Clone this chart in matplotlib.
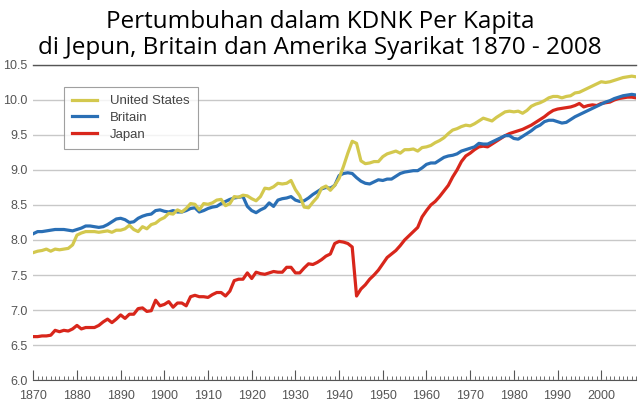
import numpy as np
import matplotlib
matplotlib.use("Agg")
import matplotlib.pyplot as plt
from matplotlib.ticker import MultipleLocator, FormatStrFormatter

# log GDP per capita, 1870-2008
years = np.arange(1870, 2009)

us = [
    7.82, 7.84, 7.85, 7.87, 7.84, 7.87, 7.86, 7.87, 7.88, 7.93,  # 1870s
    8.07, 8.10, 8.12, 8.12, 8.12, 8.11, 8.12, 8.13, 8.11, 8.14,  # 1880s
    8.14, 8.16, 8.21, 8.15, 8.12, 8.19, 8.16, 8.22, 8.24, 8.29,  # 1890s
    8.32, 8.38, 8.37, 8.43, 8.40, 8.45, 8.52, 8.51, 8.43, 8.52,  # 1900s
    8.51, 8.53, 8.57, 8.58, 8.49, 8.52, 8.62, 8.61, 8.64, 8.63,  # 1910s
    8.59, 8.56, 8.62, 8.74, 8.73, 8.76, 8.81, 8.80, 8.81, 8.85,  # 1920s
    8.72, 8.63, 8.47, 8.46, 8.54, 8.61, 8.74, 8.77, 8.71, 8.78,  # 1930s
    8.88, 9.05, 9.24, 9.41, 9.38, 9.13, 9.09, 9.10, 9.12, 9.12,  # 1940s
    9.19, 9.23, 9.25, 9.27, 9.24, 9.29, 9.29, 9.30, 9.27, 9.32,  # 1950s
    9.33, 9.35, 9.39, 9.42, 9.46, 9.52, 9.57, 9.59, 9.62, 9.64,  # 1960s
    9.63, 9.66, 9.70, 9.74, 9.72, 9.70, 9.75, 9.79, 9.83, 9.84,  # 1970s
    9.83, 9.84, 9.81, 9.85, 9.91, 9.94, 9.96, 9.99, 10.03, 10.05,  # 1980s
    10.05, 10.03, 10.05, 10.06, 10.10, 10.11, 10.14, 10.17, 10.20, 10.23,  # 1990s
    10.26, 10.25, 10.26, 10.28, 10.30, 10.32, 10.33, 10.34, 10.33,  # 2000s
]

britain = [
    8.09, 8.12, 8.12, 8.13, 8.14, 8.15, 8.15, 8.15, 8.14, 8.13,
    8.15, 8.17, 8.20, 8.20, 8.19, 8.18, 8.19, 8.22, 8.26, 8.30,
    8.31, 8.29, 8.25, 8.26, 8.31, 8.34, 8.36, 8.37, 8.42, 8.43,
    8.41, 8.40, 8.42, 8.40, 8.40, 8.42, 8.45, 8.46, 8.40, 8.42,
    8.45, 8.47, 8.48, 8.52, 8.55, 8.58, 8.60, 8.61, 8.62, 8.48,
    8.42, 8.39, 8.43, 8.46, 8.53, 8.48, 8.57, 8.59, 8.60, 8.62,
    8.57, 8.55, 8.56, 8.60, 8.65, 8.69, 8.73, 8.75, 8.74, 8.78,
    8.92, 8.95, 8.96, 8.95, 8.89, 8.84, 8.81, 8.80, 8.83, 8.86,
    8.85, 8.87, 8.87, 8.91, 8.95, 8.97, 8.98, 8.99, 8.99, 9.03,
    9.08, 9.10, 9.10, 9.14, 9.18, 9.20, 9.21, 9.23, 9.27, 9.29,
    9.31, 9.33, 9.38, 9.37, 9.37, 9.40, 9.43, 9.46, 9.49, 9.49,
    9.45, 9.44, 9.48, 9.52, 9.56, 9.61, 9.64, 9.69, 9.71, 9.71,
    9.69, 9.67, 9.68, 9.72, 9.76, 9.79, 9.82, 9.85, 9.88, 9.91,
    9.94, 9.97, 9.99, 10.02, 10.04, 10.06, 10.07, 10.08, 10.07,
]

japan = [
    6.62, 6.62, 6.63, 6.63, 6.64, 6.71, 6.69, 6.71, 6.70, 6.73,
    6.78, 6.73, 6.75, 6.75, 6.75, 6.78, 6.83, 6.87, 6.82, 6.87,
    6.93, 6.88, 6.94, 6.94, 7.02, 7.03, 6.98, 6.99, 7.14, 7.06,
    7.08, 7.12, 7.04, 7.10, 7.10, 7.06, 7.19, 7.21, 7.19, 7.19,
    7.18, 7.22, 7.25, 7.25, 7.20, 7.27, 7.42, 7.44, 7.44, 7.53,
    7.45, 7.54, 7.52, 7.51, 7.53, 7.55, 7.54, 7.54, 7.61, 7.61,
    7.53, 7.53, 7.60, 7.66, 7.65, 7.68, 7.72, 7.77, 7.80, 7.95,
    7.98, 7.97, 7.95, 7.90, 7.20, 7.30, 7.36, 7.44, 7.50, 7.57,
    7.66, 7.75, 7.80, 7.85, 7.92, 8.00, 8.06, 8.12, 8.18, 8.33,
    8.42, 8.50, 8.55, 8.62, 8.70, 8.78, 8.90, 9.00, 9.12, 9.20,
    9.24, 9.29, 9.33, 9.34, 9.33, 9.37, 9.41, 9.45, 9.49, 9.52,
    9.54, 9.56, 9.58, 9.61, 9.64, 9.68, 9.72, 9.76, 9.81, 9.85,
    9.87, 9.88, 9.89, 9.90, 9.92, 9.95, 9.90, 9.92, 9.93, 9.92,
    9.95, 9.96, 9.97, 10.00, 10.02, 10.03, 10.04, 10.04, 10.03,
]

series = [("United States", us, "#d3c84e"),
          ("Britain", britain, "#2a6fb5"),
          ("Japan", japan, "#d8261b")]

title = "Pertumbuhan dalam KDNK Per Kapita\ndi Jepun, Britain dan Amerika Syarikat 1870 - 2008"

fig = plt.figure(figsize=(6.4, 4.19), dpi=100)
ax = fig.add_axes([0.052, 0.093, 0.942, 0.752])

# draw Japan first so the other lines sit on top like the original
for name, vals, col in series[::-1]:
    ax.plot(years, vals, color=col, lw=2.3, label=name, solid_joinstyle="round")

ax.set_xlim(1870, 2008)
ax.set_ylim(6.0, 10.5)

ax.yaxis.set_major_locator(MultipleLocator(0.5))
ax.yaxis.set_major_formatter(FormatStrFormatter("%.1f"))
ax.xaxis.set_major_locator(MultipleLocator(10))
ax.xaxis.set_minor_locator(MultipleLocator(1))

ax.grid(axis="y", color="#c8c8c8", lw=1.0)
ax.set_axisbelow(True)

for s in ["left", "right"]:
    ax.spines[s].set_visible(False)
ax.spines["top"].set_color("#555555")
ax.spines["bottom"].set_color("#555555")
ax.spines["top"].set_linewidth(1.0)

ax.tick_params(axis="y", length=0, labelsize=9, labelcolor="#555555", pad=4)
ax.tick_params(axis="x", which="major", direction="in", length=7, width=0.8,
               color="#555555", labelsize=9, labelcolor="#555555", pad=7)
ax.tick_params(axis="x", which="minor", direction="in", length=3, width=0.6,
               color="#555555")
for lab in ax.get_xticklabels() + ax.get_yticklabels():
    lab.set_family("Liberation Sans")

# legend order matches the original: US, Britain, Japan
handles, labels = ax.get_legend_handles_labels()
leg = ax.legend(handles[::-1], labels[::-1], loc="upper left",
                bbox_to_anchor=(0.051, 0.93), borderaxespad=0,
                frameon=True, fancybox=False,
                edgecolor="#888888", handlelength=1.9, handletextpad=1.0,
                borderpad=0.6, labelspacing=0.35,
                prop={"family": "Liberation Sans", "size": 9.5})
leg.get_frame().set_linewidth(0.8)
for t in leg.get_texts():
    t.set_color("#444444")

fig.text(0.5, 0.975, title, ha="center", va="top", fontsize=17.5,
         family="Open Sans", linespacing=1.1)

fig.savefig("out.png", dpi=100)
